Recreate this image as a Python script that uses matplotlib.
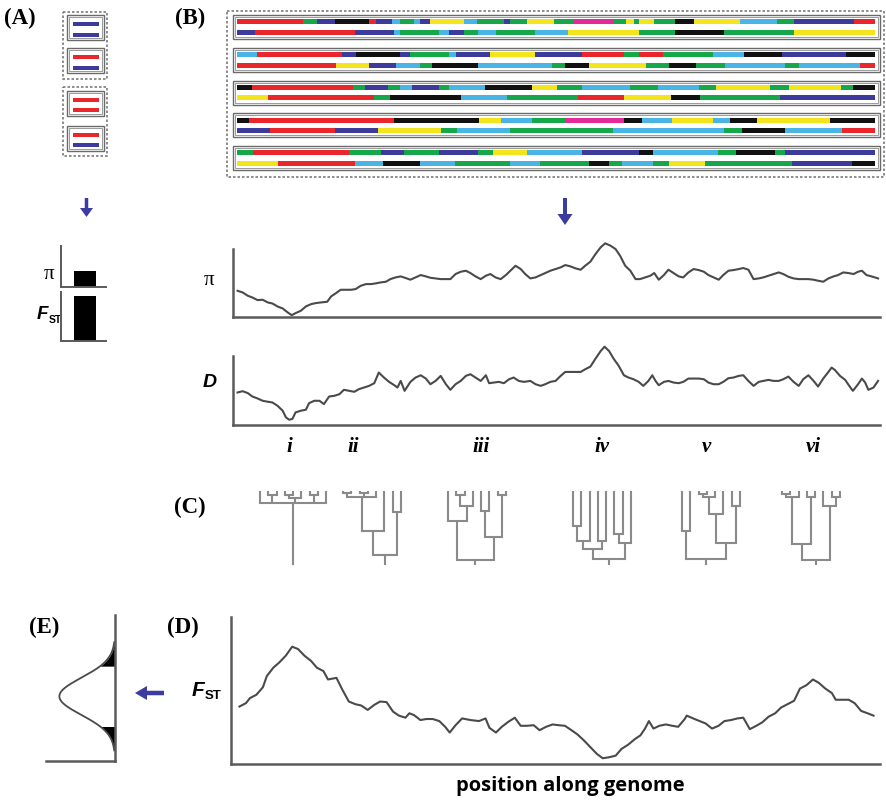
import matplotlib
matplotlib.use('Agg')
import matplotlib.pyplot as plt
from matplotlib.patches import Rectangle
import numpy as np

# ---------------------------------------------------------------- data
# colour code per chromosome segment (R red, G green, B blue, K black,
# L light blue, Y yellow, M magenta) and segment end position (kb)
CHROM_COLS = [
    'RGBKRBLGLBYLGBGYGMGYGYGKYLGBR',
    'BRBLGLBGLGLYGKGY',
    'LRBKBGLBYBRGRGLKBK',
    'RYBLGKLGKYGKGLGLR',
    'KRGBGLBGLKYGLGLGYGYGK',
    'YRGKLGRYKGB',
    'KRKYLGMKLYLKYK',
    'BRBYGLGLGKLR',
    'GRGBGBGYLBKLGKGB',
    'YRLKLGLGKGLGYGBK',
]
CHROM_ENDS = [
    [66, 80, 98, 132, 139, 155, 163, 177, 183, 193, 227, 240, 267, 273, 290,
     317, 337, 377, 389, 397, 402, 417, 438, 457, 503, 540, 557, 617, 638],
    [18, 118, 157, 163, 202, 212, 227, 241, 259, 298, 331, 402, 438, 487, 557, 638],
    [20, 105, 119, 163, 173, 212, 219, 253, 298, 345, 387, 402, 426, 476, 507,
     545, 609, 638],
    [99, 132, 159, 183, 195, 241, 315, 328, 352, 409, 432, 459, 488, 548, 562,
     623, 638],
    [15, 116, 128, 151, 163, 175, 202, 212, 248, 295, 320, 345, 393, 421, 462,
     479, 533, 552, 604, 616, 638],
    [31, 137, 153, 224, 270, 341, 387, 434, 463, 543, 638],
    [12, 157, 242, 264, 295, 328, 387, 405, 435, 476, 493, 520, 593, 638],
    [33, 98, 141, 204, 220, 273, 376, 487, 505, 548, 605, 638],
    [16, 112, 144, 167, 202, 241, 256, 290, 345, 402, 416, 481, 499, 538, 548, 638],
    [41, 118, 146, 183, 218, 273, 303, 352, 372, 385, 416, 432, 468, 555, 615, 638],
]
GENOME_LEN = 638

# panel A: haplotype colours for the four diploid individuals
A_HAPLOTYPES = [('B', 'B'), ('R', 'B'), ('R', 'R'), ('R', 'B')]
A_PI = 0.40
A_FST = 0.93

# sliding-window statistics along the genome (position 0-100, value 0-100)
PI_POS = [0.4, 1.2, 2.0, 2.7, 3.5, 4.3, 5.1, 5.8, 6.6, 7.4, 8.2, 8.8, 9.4, 10.2,
          11.0, 11.8, 12.5, 13.3, 14.3, 14.9, 15.6, 16.4, 17.2, 18.0, 18.7, 19.5,
          20.3, 21.1, 21.8, 22.6, 23.4, 24.1, 24.9, 25.7, 26.5, 27.2, 28.0, 28.8,
          29.6, 30.3, 31.1, 31.9, 32.7, 33.4, 34.2, 35.0, 35.8, 36.5, 37.3, 38.1,
          38.9, 39.6, 40.4, 41.2, 42.0, 42.7, 43.5, 44.3, 45.0, 45.8, 46.6, 47.4,
          48.1, 48.9, 49.7, 50.5, 51.2, 52.0, 52.8, 53.6, 54.3, 55.1, 55.9, 56.7,
          57.4, 58.2, 59.0, 59.7, 60.5, 61.3, 62.1, 62.8, 63.6, 64.4, 65.0, 65.7,
          66.5, 67.2, 68.0, 68.8, 69.5, 70.3, 71.1, 71.9, 72.7, 73.4, 74.2, 75.0,
          75.7, 76.5, 77.3, 78.1, 78.8, 79.6, 80.4, 81.2, 81.9, 82.7, 83.5, 84.3,
          85.0, 85.8, 86.6, 87.4, 88.1, 88.9, 89.7, 90.4, 91.2, 92.0, 92.8, 93.5,
          94.3, 95.1, 95.9, 96.6, 97.2, 97.9, 98.7, 99.7]
PI_VAL = [38.1, 35.6, 30.7, 28.2, 24.3, 24.8, 20.8, 19.3, 14.9, 11.9, 5.9, 2.0,
          5.0, 8.4, 14.9, 18.3, 19.8, 20.8, 21.8, 29.7, 34.2, 39.6, 39.6, 39.6,
          40.6, 45.5, 48.0, 48.0, 49.0, 50.5, 51.5, 55.4, 57.9, 59.4, 56.9, 54.5,
          57.9, 61.4, 59.4, 57.4, 56.4, 55.4, 55.4, 55.4, 62.9, 66.3, 67.8, 64.4,
          59.4, 55.4, 60.4, 62.9, 57.9, 55.4, 61.4, 67.8, 75.2, 70.3, 62.9, 56.4,
          57.9, 61.4, 64.4, 67.8, 70.3, 72.8, 76.2, 74.3, 71.3, 69.3, 75.2, 81.2,
          92.6, 102.5, 108.4, 105.0, 100.0, 90.1, 75.2, 67.8, 55.4, 55.4, 57.9,
          60.4, 64.4, 54.5, 61.4, 69.3, 64.4, 59.4, 57.9, 65.3, 70.3, 68.8, 66.3,
          61.4, 57.9, 54.5, 61.4, 67.8, 68.8, 70.3, 71.8, 69.3, 55.4, 56.4, 57.9,
          60.4, 62.9, 65.3, 62.9, 58.9, 56.4, 55.4, 55.4, 55.4, 54.5, 53.0, 51.5,
          56.4, 59.4, 61.4, 65.3, 64.4, 62.9, 66.3, 67.8, 61.4, 59.4, 56.4]

D_POS = [0.4, 1.2, 2.0, 2.7, 3.5, 4.3, 5.1, 5.8, 6.6, 7.4, 7.9, 8.4, 8.9, 9.4,
         10.2, 11.0, 11.5, 12.3, 13.1, 13.8, 14.6, 15.4, 16.2, 16.9, 17.7, 18.5,
         19.2, 20.0, 20.8, 21.6, 22.3, 23.1, 23.9, 24.7, 25.2, 25.7, 26.3, 27.2,
         28.0, 28.8, 29.6, 30.3, 31.1, 31.9, 32.7, 33.4, 34.2, 35.0, 35.8, 36.5,
         37.3, 38.1, 38.9, 39.4, 40.1, 40.9, 41.7, 42.5, 43.2, 44.0, 44.8, 45.8,
         46.6, 47.4, 48.1, 48.9, 49.7, 50.5, 51.2, 52.0, 52.8, 53.6, 54.3, 55.1,
         55.9, 56.7, 57.3, 58.0, 58.7, 59.5, 60.3, 61.0, 61.8, 62.6, 63.3, 64.1,
         64.7, 65.2, 65.7, 66.5, 67.2, 68.0, 68.8, 69.5, 70.3, 71.1, 71.9, 72.7,
         73.4, 74.2, 75.0, 75.7, 76.5, 77.3, 78.1, 78.8, 79.6, 80.4, 81.2, 81.9,
         82.7, 83.5, 84.3, 85.0, 85.8, 86.6, 87.4, 88.1, 88.9, 89.7, 90.4, 91.2,
         92.0, 92.5, 93.0, 93.8, 94.6, 95.3, 95.8, 96.6, 97.2, 97.7, 98.2, 99.0,
         99.7]
D_VAL = [47.1, 49.0, 46.2, 41.3, 38.5, 35.1, 33.7, 32.7, 27.9, 20.7, 11.1, 7.7,
         8.7, 18.3, 20.7, 22.1, 31.7, 35.1, 35.1, 30.3, 41.3, 42.3, 44.7, 51.0,
         49.5, 48.1, 51.9, 54.3, 56.7, 60.6, 76.0, 68.8, 62.5, 57.7, 54.3, 63.9,
         49.5, 62.5, 68.8, 72.1, 67.3, 59.1, 63.9, 71.2, 59.1, 51.0, 59.1, 63.9,
         71.2, 73.6, 68.8, 63.9, 72.1, 60.6, 61.5, 62.5, 60.6, 66.3, 68.8, 63.9,
         62.5, 63.9, 59.1, 56.7, 59.1, 62.5, 63.9, 71.2, 76.9, 76.9, 76.9, 76.9,
         80.8, 84.6, 96.2, 107.2, 113.5, 107.2, 96.2, 85.6, 72.1, 68.8, 66.3,
         62.5, 56.7, 63.9, 72.1, 63.9, 57.7, 62.5, 63.9, 61.5, 60.6, 62.5, 67.3,
         67.3, 67.3, 66.3, 61.5, 59.1, 59.1, 62.5, 67.8, 68.8, 71.2, 72.1, 63.9,
         56.7, 62.5, 63.9, 65.4, 63.9, 63.9, 66.3, 70.2, 62.5, 56.7, 66.3, 72.1,
         63.9, 55.8, 67.3, 76.9, 83.2, 79.8, 71.2, 65.4, 55.8, 49.5, 59.1, 67.3,
         61.5, 51.0, 54.3, 63.9]

FST_POS = [1.6, 2.6, 3.2, 4.2, 5.2, 5.8, 6.8, 7.7, 8.7, 9.7, 10.6, 11.6, 12.6,
           13.5, 14.5, 15.2, 16.5, 17.4, 18.4, 19.4, 20.3, 21.3, 22.3, 23.2, 24.2,
           25.2, 26.1, 27.1, 27.7, 28.4, 29.4, 30.3, 31.3, 32.3, 33.2, 33.9, 34.8,
           35.8, 37.1, 38.4, 39.4, 40.0, 41.0, 41.9, 42.9, 43.9, 44.8, 45.8, 46.8,
           47.7, 48.7, 49.7, 50.6, 51.6, 52.6, 53.5, 54.5, 55.5, 56.5, 57.4, 58.4,
           59.4, 60.3, 61.3, 62.3, 63.2, 63.9, 64.5, 65.2, 66.1, 67.1, 68.1, 69.0,
           70.0, 70.3, 71.3, 72.3, 73.2, 74.2, 75.2, 76.1, 77.1, 78.1, 79.0, 80.0,
           81.0, 81.9, 82.9, 83.9, 84.8, 85.8, 86.8, 87.7, 88.7, 89.7, 90.6, 91.6,
           92.6, 93.2, 94.2, 95.2, 96.1, 97.1, 98.1, 99.0]
FST_VAL = [39.1, 41.4, 44.8, 47.1, 52.2, 59.8, 65.5, 69.0, 73.6, 79.8, 78.2, 73.6,
           70.1, 65.5, 63.2, 57.5, 58.6, 50.6, 42.5, 40.7, 39.8, 36.8, 40.2, 42.5,
           42.1, 35.6, 32.9, 31.5, 34.5, 33.3, 29.9, 30.6, 30.6, 29.2, 25.3, 21.4,
           26.4, 31.0, 29.9, 29.2, 31.0, 24.6, 21.4, 25.3, 28.7, 31.5, 26.0, 26.0,
           26.4, 23.0, 25.3, 26.9, 26.4, 26.0, 23.0, 20.2, 16.1, 11.5, 6.9, 3.9,
           4.6, 5.7, 10.3, 13.1, 16.8, 19.5, 24.1, 29.2, 24.1, 26.0, 26.9, 26.0,
           25.3, 30.6, 32.9, 31.0, 29.2, 27.6, 24.1, 26.0, 29.2, 29.9, 31.0, 31.5,
           23.7, 26.0, 28.3, 32.2, 34.5, 38.4, 40.7, 43.0, 51.3, 53.6, 57.5, 55.2,
           51.3, 48.3, 43.7, 43.7, 43.7, 41.4, 36.1, 34.5, 32.9]

# panel E: null distribution of F_ST (same units as the F_ST axis)
E_MEAN = 44.3
E_SD = 12.7
E_CUTOFF = 20.5
E_RANGE = 37.0

# panel C: genealogies, internal node = (time, child, child, ...), leaf = None
L = None
TREE_LABELS = ['i', 'ii', 'iii', 'iv', 'v', 'vi']
TREES = [
    (0.18, L, (0.07, L, L), (0.10, (0.06, L, L), L), (0.07, L, L), L),
    (0.94, (0.59, (0.09, (0.04, L, L), (0.04, L, L), L), L), (0.31, L, L)),
    (1.02, (0.44, L, (0.22, (0.07, L, L), L)), (0.68, (0.29, L, L), (0.07, L, L))),
    (1.00, (0.85, (0.73, (0.51, L, L), L), (0.73, L, L)), (0.76, (0.63, L, L), L)),
    (1.00, (0.59, L, L), (0.76, (0.34, (0.09, (0.05, L, L), L), L), (0.22, L, L))),
    (1.02, (0.78, (0.09, (0.05, L, L), L), (0.09, L, L)), (0.22, L, (0.09, L, L))),
]

# ---------------------------------------------------------------- style
COLORS = {'R': '#e8262b', 'G': '#16a74b', 'B': '#3c3a9b', 'K': '#111111',
          'L': '#4bb4e6', 'Y': '#f4e41d', 'M': '#e22b98'}
ARROW_COLOR = '#3b3ba0'
LINE_COLOR = '#4a4a4a'
SPINE_COLOR = '#5a5a5a'
TREE_COLOR = '#8a8a8a'
BOX_COLOR = '#6a6a6a'
SERIF = 'Liberation Serif'
SANS = 'Liberation Sans'

W, H = 886, 804
fig = plt.figure(figsize=(W / 100, H / 100), dpi=100)
fig.patch.set_facecolor('white')


def px_axes(x0, y0, x1, y1):
    """Axes placed by pixel box (top-left origin)."""
    return fig.add_axes([x0 / W, 1 - y1 / H, (x1 - x0) / W, (y1 - y0) / H])


# background axes in pixel units for annotations
ax0 = px_axes(0, 0, W, H)
ax0.set_xlim(0, W)
ax0.set_ylim(H, 0)
ax0.axis('off')


def double_box(x0, y0, x1, y1):
    ax0.add_patch(Rectangle((x0, y0), x1 - x0, y1 - y0, fill=False,
                            ec=BOX_COLOR, lw=1.0))
    ax0.add_patch(Rectangle((x0 + 2, y0 + 2), x1 - x0 - 4, y1 - y0 - 4,
                            fill=False, ec='#9a9a9a', lw=0.7))


def dashed_box(x0, y0, x1, y1):
    ax0.add_patch(Rectangle((x0, y0), x1 - x0, y1 - y0, fill=False,
                            ec='#7a7a7a', lw=1.2, ls=(0, (1.5, 1.2))))


def arrow(x, y, dx, dy, width, head_w, head_l):
    ax0.arrow(x, y, dx, dy, width=width, head_width=head_w, head_length=head_l,
              length_includes_head=True, color=ARROW_COLOR, lw=0)


def fst_label(x, y, size, sub):
    ax0.text(x, y, 'F', family=SANS, weight='bold', style='italic',
             fontsize=size, ha='right', va='center')
    ax0.text(x + 0.5, y + size * 0.35, 'ST', family=SANS, weight='bold',
             fontsize=sub, ha='left', va='center')


# ---------------------------------------------------------------- panel A
for k, (h1, h2) in enumerate(A_HAPLOTYPES):
    top = [16, 49.3, 91.7, 126.7][k]
    double_box(66.7, top, 104, top + 25)
    ax0.barh([top + 9, top + 19.5], [26, 26], left=72.7, height=4,
             color=[COLORS[h1], COLORS[h2]])
dashed_box(63.3, 12.7, 107.3, 80)
dashed_box(63.3, 88.3, 107.3, 156.7)
arrow(86.5, 199, 0, 19, 3.5, 13, 9)

for (y0, y1), val in zip([(246.7, 288.3), (293.3, 341.7)], [A_PI, A_FST]):
    axm = px_axes(61, y0, 106, y1)
    axm.bar([0.53], [val], width=0.48, color='black')
    axm.set_xlim(0, 1)
    axm.set_ylim(0, 1)
    axm.set_xticks([])
    axm.set_yticks([])
    for s in ['top', 'right']:
        axm.spines[s].set_visible(False)
    for s in ['left', 'bottom']:
        axm.spines[s].set_color(SPINE_COLOR)
        axm.spines[s].set_linewidth(1.4)
    axm.patch.set_alpha(0)
ax0.text(49, 275, 'π', family=SERIF, fontsize=15, ha='center', va='center')
fst_label(48, 315, 13.5, 7.5)

# ---------------------------------------------------------------- panel B
axb = px_axes(236.7, 0, 875, 185)
axb.set_xlim(0, GENOME_LEN)
axb.set_ylim(185, 0)
axb.axis('off')
for i, (cols, ends) in enumerate(zip(CHROM_COLS, CHROM_ENDS)):
    pair, hap = divmod(i, 2)
    y = 22.7 + 32.8 * pair + 10.6 * hap
    starts = [0] + ends[:-1]
    widths = np.diff([0] + ends)
    axb.barh([y] * len(ends), widths, left=starts, height=5,
             color=[COLORS[c] for c in cols], lw=0)
for pair in range(5):
    top = 16 + 32.8 * pair
    double_box(232.7, top, 880, top + 24)
dashed_box(226.7, 11.7, 884.3, 178.3)
arrow(565, 199, 0, 27, 4, 15, 11)


def stat_axes(y0, y1, x0, pos, val, xlim=(-0.3, 100)):
    ax = px_axes(x0, y0, 880, y1)
    ax.plot(pos, val, color=LINE_COLOR, lw=1.5, clip_on=False)
    ax.set_xlim(*xlim)
    ax.set_ylim(0, 100)
    ax.set_xticks([])
    ax.set_yticks([])
    for s in ['top', 'right']:
        ax.spines[s].set_visible(False)
    for s in ['left', 'bottom']:
        ax.spines[s].set_color(SPINE_COLOR)
        ax.spines[s].set_linewidth(1.8)
    ax.patch.set_alpha(0)
    return ax


stat_axes(250, 317.5, 233, PI_POS, PI_VAL)
stat_axes(357, 426, 233, D_POS, D_VAL)
ax0.text(209, 281, 'π', family=SERIF, fontsize=15, ha='center', va='center')
ax0.text(210, 383, 'D', family=SANS, weight='bold', style='italic',
         fontsize=14, ha='center', va='center')

label_x = [289, 353, 481, 602, 706, 813]
for lab, x in zip(TREE_LABELS, label_x):
    ax0.text(x, 447, lab, family=SERIF, weight='bold', style='italic',
             fontsize=15, ha='center', va='center')

# ---------------------------------------------------------------- panel C
TIP_Y = 491.7
T_SCALE = 68.3
STEM_T = 1.08
TIP_GAP = 8.3
tree_left = [260, 343, 448, 573, 682, 782]


def draw_tree(node, xs):
    if node is None:
        return next(xs), 0.0
    t = node[0]
    kids = [draw_tree(c, xs) for c in node[1:]]
    for kx, kt in kids:
        ax0.plot([kx, kx], [TIP_Y + kt * T_SCALE, TIP_Y + t * T_SCALE],
                 color=TREE_COLOR, lw=1.5, solid_capstyle='butt')
    kx_all = [k[0] for k in kids]
    ax0.plot([min(kx_all), max(kx_all)], [TIP_Y + t * T_SCALE] * 2,
             color=TREE_COLOR, lw=1.5, solid_capstyle='projecting')
    return (min(kx_all) + max(kx_all)) / 2, t


def count_leaves(node):
    return 1 if node is None else sum(count_leaves(c) for c in node[1:])


for tree, x0 in zip(TREES, tree_left):
    n = count_leaves(tree)
    xs = iter(x0 + TIP_GAP * np.arange(n))
    rx, rt = draw_tree(tree, xs)
    ax0.plot([rx, rx], [TIP_Y + rt * T_SCALE, TIP_Y + STEM_T * T_SCALE],
             color=TREE_COLOR, lw=1.5)

# ---------------------------------------------------------------- panel D
stat_axes(618, 765, 231, FST_POS, FST_VAL, xlim=(0.3, 100))
fst_label(204, 691, 15, 9.5)
ax0.text(570, 786, 'position along genome', family='Open Sans', weight='bold',
         fontsize=14.5, ha='center', va='center')

# ---------------------------------------------------------------- panel E
axe = px_axes(46, 616, 115, 762)
ey = np.linspace(E_MEAN - E_RANGE, E_MEAN + E_RANGE, 300)
ex = np.exp(-0.5 * ((ey - E_MEAN) / E_SD) ** 2)
axe.plot(ex, ey, color=LINE_COLOR, lw=1.3)
tail = np.abs(ey - E_MEAN) >= E_CUTOFF
axe.fill_betweenx(ey, 0, ex, where=tail & (ey > E_MEAN), color='black', lw=0)
axe.fill_betweenx(ey, 0, ex, where=tail & (ey < E_MEAN), color='black', lw=0)
axe.set_xlim(1.24, 0)
axe.set_ylim(0, 100)
axe.set_xticks([])
axe.set_yticks([])
for s in ['top', 'left']:
    axe.spines[s].set_visible(False)
for s in ['right', 'bottom']:
    axe.spines[s].set_color(SPINE_COLOR)
    axe.spines[s].set_linewidth(1.8)
axe.patch.set_alpha(0)
arrow(164, 694, -29, 0, 4.5, 14, 12)

# ---------------------------------------------------------------- panel letters
for lab, x, y in [('(A)', 4, 18), ('(B)', 175, 18), ('(C)', 174, 507),
                  ('(D)', 167, 627), ('(E)', 29, 627)]:
    ax0.text(x, y, lab, family=SERIF, weight='bold', fontsize=16.5,
             ha='left', va='center')

fig.savefig('out.png', dpi=100)
